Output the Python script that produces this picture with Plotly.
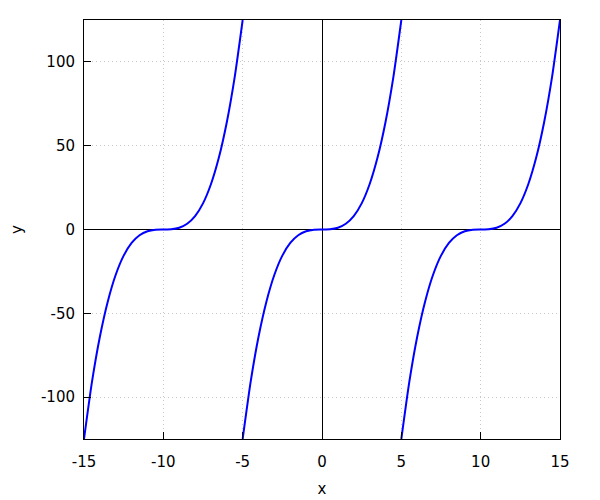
import plotly.graph_objects as go

offsets = [-5, -4.5, -4, -3.5, -3, -2.5, -2, -1.5, -1, -0.5, 0,
           0.5, 1, 1.5, 2, 2.5, 3, 3.5, 4, 4.5, 5]
profile = [-125, -91.1, -64, -42.9, -27, -15.6, -8, -3.4, -1, -0.1, 0,
           0.1, 1, 3.4, 8, 15.6, 27, 42.9, 64, 91.1, 125]
centres = [-10, 0, 10]

x_ticks = [-15, -10, -5, 0, 5, 10, 15]
x_labels = ["-15", "-10", "-5", "0", "5", "10", "15"]
y_ticks = [-100, -50, 0, 50, 100]
y_labels = ["-100", "-50", "0", "50", "100"]

xs, ys = [], []
for c in centres:
    xs += [c + o for o in offsets] + [None]
    ys += profile + [None]

fig = go.Figure()
fig.add_trace(go.Scatter(x=xs, y=ys, mode="lines",
                         line=dict(color="#0000ff", width=2, shape="spline", smoothing=0.6),
                         connectgaps=False, showlegend=False, hoverinfo="skip"))

font = dict(family="DejaVu Sans", size=15, color="black")
axis_common = dict(
    showline=True, linecolor="black", linewidth=1, mirror=True,
    ticks="inside", ticklen=7, tickcolor="black", tickwidth=1,
    showgrid=True, gridcolor="#c8c8c8", griddash="1px,3px", gridwidth=1,
    zeroline=True, zerolinecolor="black", zerolinewidth=1,
    tickfont=font, automargin=False,
)
fig.update_xaxes(range=[-15, 15], tickvals=x_ticks, ticktext=x_labels,
                 ticklabelstandoff=9,
                 title=dict(text="x", font=font, standoff=13), **axis_common)
fig.update_yaxes(range=[-125, 125], tickvals=y_ticks, ticktext=y_labels,
                 ticklabelstandoff=5,
                 title=dict(text="y", font=font, standoff=22), **axis_common)
fig.update_layout(width=600, height=500, plot_bgcolor="white", paper_bgcolor="white",
                  margin=dict(l=76, r=48, t=12, b=69), showlegend=False)
fig.write_html("out.html")
